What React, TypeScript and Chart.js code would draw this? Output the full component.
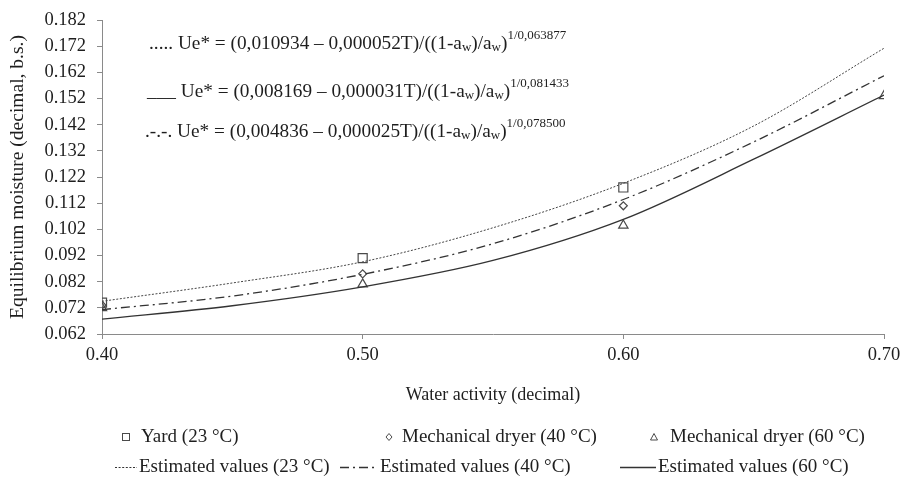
import { useEffect, useRef } from 'react';
import { Chart, registerables } from 'chart.js';

Chart.register(...registerables);

// ---- data ----
const waterActivity = [0.40, 0.45, 0.50, 0.55, 0.60, 0.65, 0.70];
const estimated23 = [0.0745, 0.0815, 0.0896, 0.1026, 0.1196, 0.1415, 0.1712];
const estimated40 = [0.0713, 0.0765, 0.0848, 0.0965, 0.1134, 0.1354, 0.1607];
const estimated60 = [0.0677, 0.0728, 0.0800, 0.0901, 0.1058, 0.1288, 0.1533];

const yardAw = [0.40, 0.50, 0.60];
const yardValues = [0.074, 0.091, 0.118];
const dryer40Aw = [0.40, 0.50, 0.60];
const dryer40Values = [0.073, 0.085, 0.111];
const dryer60Aw = [0.40, 0.50, 0.60, 0.70];
const dryer60Values = [0.072, 0.081, 0.1035, 0.153];

const yTicks = [0.062, 0.072, 0.082, 0.092, 0.102, 0.112, 0.122, 0.132, 0.142, 0.152, 0.162, 0.172, 0.182];
const xTicks = [0.40, 0.50, 0.60, 0.70];

const yTitle = 'Equilibrium moisture (decimal, b.s.)';
const xTitle = 'Water activity (decimal)';

type Run = { t: string; k: 'n' | 'sub' | 'sup' };
const equations: { prefix: string; runs: Run[] }[] = [
  {
    prefix: '.....',
    runs: [
      { t: ' Ue* = (0,010934 – 0,000052T)/((1-a', k: 'n' },
      { t: 'w', k: 'sub' },
      { t: ')/a', k: 'n' },
      { t: 'w', k: 'sub' },
      { t: ')', k: 'n' },
      { t: '1/0,063877', k: 'sup' },
    ],
  },
  {
    prefix: '___',
    runs: [
      { t: ' Ue* = (0,008169 – 0,000031T)/((1-a', k: 'n' },
      { t: 'w', k: 'sub' },
      { t: ')/a', k: 'n' },
      { t: 'w', k: 'sub' },
      { t: ')', k: 'n' },
      { t: '1/0,081433', k: 'sup' },
    ],
  },
  {
    prefix: '.-.-.',
    runs: [
      { t: ' Ue* = (0,004836 – 0,000025T)/((1-a', k: 'n' },
      { t: 'w', k: 'sub' },
      { t: ')/a', k: 'n' },
      { t: 'w', k: 'sub' },
      { t: ')', k: 'n' },
      { t: '1/0,078500', k: 'sup' },
    ],
  },
];

const legendMarkers = ['Yard (23 °C)', 'Mechanical dryer (40 °C)', 'Mechanical dryer (60 °C)'];
const legendLines = ['Estimated values (23 °C)', 'Estimated values (40 °C)', 'Estimated values (60 °C)'];

const FONT = "'Liberation Serif', 'Times New Roman', serif";
const INK = '#1e1e1e';
const LINE = '#333333';
const MARK = '#4a4a4a';
const AXIS = '#8a8a8a';

const zip = (xs: number[], ys: number[]) => xs.map((x, i) => ({ x, y: ys[i] }));

const DOTTED = [2, 1.6];
const DASHDOT = [9, 4, 2, 4];

const overlayPlugin = {
  id: 'overlay',
  afterDraw(chart: any) {
    const ctx: CanvasRenderingContext2D = chart.ctx;
    const area = chart.chartArea;
    ctx.save();
    ctx.fillStyle = INK;
    ctx.textBaseline = 'middle';
    ctx.textAlign = 'left';

    // equations
    const eqX = [149, 147, 145];
    const eqY = [44, 92, 132];
    const mainSize = 19.3;
    const smallSize = 13;
    equations.forEach((eq, i) => {
      let cx = eqX[i];
      const y = eqY[i];
      ctx.font = `${mainSize}px ${FONT}`;
      ctx.fillText(eq.prefix, cx, y);
      cx += ctx.measureText(eq.prefix).width;
      eq.runs.forEach((r) => {
        const size = r.k === 'n' ? mainSize : smallSize;
        ctx.font = `${size}px ${FONT}`;
        const dy = r.k === 'sub' ? 4 : r.k === 'sup' ? -8 : 0;
        ctx.fillText(r.t, cx, y + dy);
        cx += ctx.measureText(r.t).width;
      });
    });

    // x title
    ctx.textAlign = 'center';
    ctx.font = `18px ${FONT}`;
    ctx.fillText(xTitle, (area.left + area.right) / 2, 395);

    // legend row 1 (markers)
    ctx.textAlign = 'left';
    ctx.font = `19px ${FONT}`;
    const row1 = 437;
    const mx = [126, 389, 654];
    const tx1 = [141, 402, 670];
    ctx.strokeStyle = MARK;
    ctx.lineWidth = 1;
    // square
    ctx.strokeRect(mx[0] - 3.5, row1 - 3.5, 7, 7);
    // diamond
    ctx.beginPath();
    ctx.moveTo(mx[1], row1 - 3.5);
    ctx.lineTo(mx[1] + 3, row1);
    ctx.lineTo(mx[1], row1 + 3.5);
    ctx.lineTo(mx[1] - 3, row1);
    ctx.closePath();
    ctx.stroke();
    // triangle
    ctx.beginPath();
    ctx.moveTo(mx[2], row1 - 3.5);
    ctx.lineTo(mx[2] + 3.5, row1 + 3);
    ctx.lineTo(mx[2] - 3.5, row1 + 3);
    ctx.closePath();
    ctx.stroke();
    legendMarkers.forEach((t, i) => ctx.fillText(t, tx1[i], row1));

    // legend row 2 (lines)
    const row2 = 467;
    const lx = [[115, 137], [340, 378], [620, 656]];
    const tx2 = [139, 380, 658];
    const dashes = [DOTTED, DASHDOT, []];
    ctx.strokeStyle = LINE;
    lx.forEach((seg, i) => {
      ctx.beginPath();
      ctx.setLineDash(dashes[i]);
      ctx.lineWidth = i === 0 ? 1 : 1.3;
      ctx.moveTo(seg[0], row2 + 0.5);
      ctx.lineTo(seg[1], row2 + 0.5);
      ctx.stroke();
    });
    ctx.setLineDash([]);
    legendLines.forEach((t, i) => ctx.fillText(t, tx2[i], row2));
    ctx.restore();
  },
};

export default function App() {
  const ref = useRef<HTMLCanvasElement | null>(null);

  useEffect(() => {
    if (!ref.current) return;
    const chart = new Chart(ref.current, {
      type: 'scatter',
      data: {
        datasets: [
          {
            label: legendLines[0],
            data: zip(waterActivity, estimated23),
            showLine: true,
            borderColor: '#444444',
            borderWidth: 1,
            borderDash: DOTTED,
            pointRadius: 0,
            cubicInterpolationMode: 'monotone',
          },
          {
            label: legendLines[1],
            data: zip(waterActivity, estimated40),
            showLine: true,
            borderColor: LINE,
            borderWidth: 1.3,
            borderDash: DASHDOT,
            pointRadius: 0,
            cubicInterpolationMode: 'monotone',
          },
          {
            label: legendLines[2],
            data: zip(waterActivity, estimated60),
            showLine: true,
            borderColor: LINE,
            borderWidth: 1.3,
            pointRadius: 0,
            cubicInterpolationMode: 'monotone',
          },
          {
            label: legendMarkers[0],
            data: zip(yardAw, yardValues),
            pointStyle: 'rect',
            pointRadius: 6.4,
            borderColor: MARK,
            backgroundColor: 'rgba(0,0,0,0)',
            borderWidth: 1.2,
          },
          {
            label: legendMarkers[1],
            data: zip(dryer40Aw, dryer40Values),
            pointStyle: 'rectRot',
            pointRadius: 4,
            borderColor: MARK,
            backgroundColor: 'rgba(0,0,0,0)',
            borderWidth: 1.2,
          },
          {
            label: legendMarkers[2],
            data: zip(dryer60Aw, dryer60Values),
            pointStyle: 'triangle',
            pointRadius: 5.4,
            borderColor: MARK,
            backgroundColor: 'rgba(0,0,0,0)',
            borderWidth: 1.2,
          },
        ],
      },
      options: {
        responsive: false,
        animation: false,
        layout: { padding: { left: 0, right: 17, top: 20, bottom: 0 } },
        plugins: {
          legend: { display: false },
          tooltip: { enabled: false },
        },
        scales: {
          x: {
            type: 'linear',
            min: 0.40,
            max: 0.70,
            afterFit: (s: any) => {
              s.height = 148;
              s.paddingLeft = 0;
              s.paddingRight = 0;
            },
            afterBuildTicks: (s: any) => {
              s.ticks = xTicks.map((v) => ({ value: v }));
            },
            ticks: {
              color: INK,
              font: { family: FONT, size: 18.5 },
              padding: 5,
              maxRotation: 0,
              autoSkip: false,
              callback: (v: any) => Number(v).toFixed(2),
            },
            grid: { display: true, drawOnChartArea: false, drawTicks: true, tickLength: 5, color: AXIS },
            border: { display: true, color: AXIS, width: 1 },
          },
          y: {
            type: 'linear',
            min: 0.062,
            max: 0.182,
            afterFit: (s: any) => {
              s.width = 102;
              s.paddingTop = 0;
              s.paddingBottom = 0;
            },
            afterBuildTicks: (s: any) => {
              s.ticks = yTicks.map((v) => ({ value: v }));
            },
            ticks: {
              color: INK,
              font: { family: FONT, size: 18.5 },
              padding: 11,
              autoSkip: false,
              callback: (v: any) => Number(v).toFixed(3),
            },
            title: {
              display: true,
              text: yTitle,
              color: INK,
              font: { family: FONT, size: 19.5, lineHeight: 1.2 },
              padding: { top: 6, bottom: 0 },
            },
            grid: { display: true, drawOnChartArea: false, drawTicks: true, tickLength: 5, color: AXIS },
            border: { display: true, color: AXIS, width: 1 },
          },
        },
      } as any,
      plugins: [overlayPlugin],
    });
    return () => chart.destroy();
  }, []);

  return (
    <div style={{ position: 'fixed', left: 0, top: 0, width: 901, height: 482, background: '#ffffff' }}>
      <canvas ref={ref} width={901} height={482} style={{ display: 'block' }} />
    </div>
  );
}
